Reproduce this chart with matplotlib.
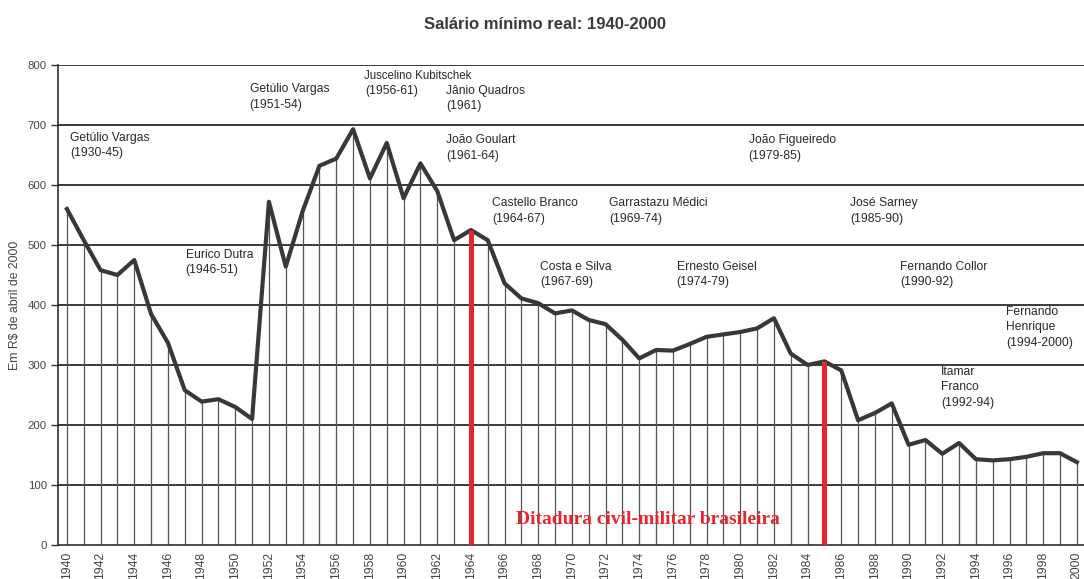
import matplotlib
matplotlib.use("Agg")
import matplotlib.pyplot as plt

# salario minimo real, em R$ de abril de 2000
years = list(range(1940, 2001))
salario = [560, 508, 458, 450, 475, 385, 337, 258, 239, 243,
           230, 210, 572, 464, 556, 632, 644, 693, 611, 670,
           578, 636, 590, 508, 525, 508, 436, 411, 403, 386,
           391, 375, 368, 342, 311, 325, 324, 335, 347, 351,
           355, 361, 378, 319, 300, 306, 291, 208, 220, 236,
           167, 175, 152, 170, 143, 141, 143, 147, 153, 153,
           138]

# presidentes: (texto, ano, valor) -> canto superior esquerdo do rotulo
presidentes = [
    ("Getúlio Vargas\n(1930-45)", 1940.2, 689),
    ("Eurico Dutra\n(1946-51)", 1947.05, 494),
    ("Getúlio Vargas\n(1951-54)", 1950.85, 770),
    ("(1956-61)", 1957.7, 766),
    ("Jânio Quadros\n(1961)", 1962.53, 767),
    ("João Goulart\n(1961-64)", 1962.53, 685),
    ("Castello Branco\n(1964-67)", 1965.25, 580),
    ("Costa e Silva\n(1967-69)", 1968.1, 474),
    ("Garrastazu Médici\n(1969-74)", 1972.19, 580),
    ("Ernesto Geisel\n(1974-79)", 1976.22, 474),
    ("João Figueiredo\n(1979-85)", 1980.49, 685),
    ("José Sarney\n(1985-90)", 1986.53, 580),
    ("Fernando Collor\n(1990-92)", 1989.5, 474),
    ("Itamar\nFranco\n(1992-94)", 1991.93, 299),
    ("Fernando\nHenrique\n(1994-2000)", 1995.78, 399),
]

ditadura = [1964, 1985]

fig = plt.figure(figsize=(10.84, 5.79), dpi=100)
ax = fig.add_axes([58 / 1084, 34 / 579, 1026 / 1084, 480 / 579])

for v in range(100, 900, 100):
    ax.axhline(v, color="#2c2c2c", lw=1.3, zorder=1)

ax.vlines(years, 0, salario, color="#555555", lw=0.9, zorder=2)

idx = [years.index(y) for y in ditadura]
ax.vlines(ditadura, 0, [salario[i] for i in idx], color="#e8242c", lw=3.6, zorder=4)

ax.plot(years, salario, color="#383838", lw=3.0, solid_joinstyle="round", zorder=3)

for txt, x, y in presidentes:
    ax.text(x, y, txt, fontsize=8.7, family="Liberation Sans", color="#2a2a2a",
            va="top", ha="left", linespacing=1.4, zorder=5)
# nome do JK numa linha a parte, um pouco mais apertado
ax.text(1957.66, 791, "Juscelino Kubitschek", fontsize=8.3, family="Liberation Sans",
        color="#2a2a2a", va="top", ha="left", zorder=5)

ax.text(1966.67, 42, "Ditadura civil-militar brasileira", fontsize=14,
        family="Liberation Serif", fontweight="bold", color="#e8242c",
        va="center", ha="left", zorder=5)

ax.set_xlim(1939.47, 2000.42)
ax.set_ylim(0, 800)
ax.set_yticks(range(0, 900, 100))
ax.set_xticks(range(1940, 2001, 2))
ax.set_xticklabels([str(y) for y in range(1940, 2001, 2)], rotation=90,
                   fontsize=8.7, family="Liberation Sans", color="#444444")
ax.set_yticklabels([str(v) for v in range(0, 900, 100)], fontsize=8.2,
                   family="Liberation Sans", color="#444444")
ax.tick_params(axis="x", length=0, pad=5)
ax.tick_params(axis="y", length=5, width=1, color="#303030", pad=3)

for s in ["top", "right"]:
    ax.spines[s].set_visible(False)
ax.spines["left"].set_color("#303030")
ax.spines["bottom"].set_color("#303030")
ax.spines["left"].set_linewidth(1.2)
ax.spines["bottom"].set_linewidth(1.2)

ax.set_ylabel("Em R$ de abril de 2000", fontsize=8.8, family="Liberation Sans",
              color="#444444", labelpad=5)

fig.text(0.503, 0.957, "Salário mínimo real: 1940-2000", fontsize=12,
         family="Liberation Sans", fontweight="bold", color="#3a3a3a",
         ha="center", va="center")

fig.savefig("out.png", dpi=100, facecolor="white")
